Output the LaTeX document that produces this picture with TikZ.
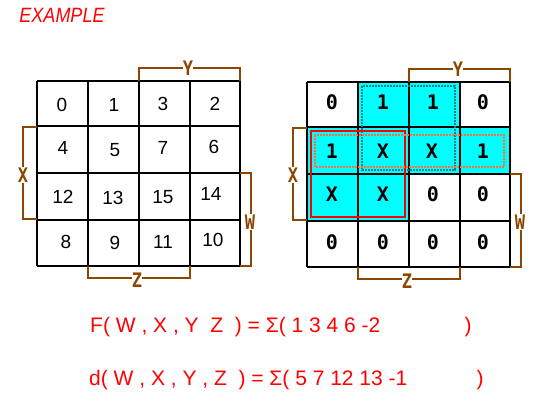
\documentclass[tikz,border=0pt]{standalone}
\usepackage{fontspec}
\setmainfont{Liberation Sans}
\newfontfamily\monob{DejaVu Sans Mono}
\definecolor{brn}{RGB}{140,70,0}
\definecolor{tealb}{RGB}{0,128,128}
\definecolor{orng}{RGB}{255,110,60}
\definecolor{cyanb}{RGB}{0,255,255}
\newcommand{\narrowl}[1]{\scalebox{0.85}[1]{#1}}
\begin{document}
\begin{tikzpicture}[x=1pt,y=-1pt,
  gridline/.style={line width=2pt,black},
  brk/.style={brn,line width=1.3pt},
  lbl/.style={text=brn,fill=white,inner sep=0.3pt,font=\monob\bfseries\fontsize{20}{20}\selectfont},
  num/.style={font=\fontsize{19}{19}\selectfont,inner sep=0pt},
  bit/.style={font=\monob\bfseries\fontsize{20}{20}\selectfont,inner sep=0pt},
  eqn/.style={text=red,font=\fontsize{21}{21}\selectfont,inner sep=0pt}]
\useasboundingbox (0,0) rectangle (549,410);
\fill[white] (0,0) rectangle (549,410);

% title
\node[text=red,font=\itshape\fontsize{18}{18}\selectfont,inner sep=0pt] (title) at (62,15) {\scalebox{1}[1.15]{EXAMPLE}};

% ---------- left map ----------
\foreach \x in {37,88,139,190,240} \draw[gridline] (\x,81) -- (\x,266);
\foreach \y in {81,126,173,220,266} \draw[gridline] (37,\y) -- (240,\y);

\node[num] (l0)  at (62,105) {0};
\node[num] (l1)  at (114,105) {1};
\node[num] (l3)  at (163,104) {3};
\node[num] (l2)  at (215,104) {2};
\node[num] (l4)  at (63,148) {4};
\node[num] (l5)  at (115,150) {5};
\node[num] (l7)  at (163,148) {7};
\node[num] (l6)  at (214,147) {6};
\node[num] (l12) at (63,197) {12};
\node[num] (l13) at (113,198) {13};
\node[num] (l15) at (163,197) {15};
\node[num] (l14) at (211,194) {14};
\node[num] (l8)  at (66,242) {8};
\node[num] (l9)  at (115,243) {9};
\node[num] (l11) at (163,242) {11};
\node[num] (l10) at (213,240) {10};

\draw[brk] (139,81) -- (139,68) -- (240,68) -- (240,81);
\node[lbl] (ly) at (188,68) {\narrowl{Y}};
\draw[brk] (37,127) -- (23,127) -- (23,219) -- (37,219);
\node[lbl] (lx) at (23,175) {\narrowl{X}};
\draw[brk] (240,173) -- (251,173) -- (251,266) -- (240,266);
\node[lbl] (lw) at (250,222) {\narrowl{W}};
\draw[brk] (88,266) -- (88,278) -- (190,278) -- (190,266);
\node[lbl] (lz) at (137,280) {\narrowl{Z}};

% ---------- right map ----------
\begin{scope}[shift={(270,1)}]
\fill[cyanb] (88,81) rectangle (190,126);
\fill[cyanb] (37,126) rectangle (240,173);
\fill[cyanb] (37,173) rectangle (139,220);
\foreach \x in {37,88,139,190,240} \draw[gridline] (\x,81) -- (\x,266);
\foreach \y in {81,126,173,220,266} \draw[gridline] (37,\y) -- (240,\y);

\draw[tealb,line width=2pt,dash pattern=on 2pt off 1pt] (92,85) rectangle (185,169);
\draw[red,line width=2pt] (41,130) rectangle (135,216);
\draw[orng,line width=2pt,dash pattern=on 2pt off 1pt] (45,134) rectangle (234,166);

\node[bit] (r00) at (62,101) {0};
\node[bit] (r01) at (113,101) {1};
\node[bit] (r02) at (163,101) {1};
\node[bit] (r03) at (213,101) {0};
\node[bit] (r10) at (62,150) {1};
\node[bit] (r11) at (113,150) {X};
\node[bit] (r12) at (162,150) {X};
\node[bit] (r13) at (213,150) {1};
\node[bit] (r20) at (62,193) {X};
\node[bit] (r21) at (113,193) {X};
\node[bit] (r22) at (163,193) {0};
\node[bit] (r23) at (213,193) {0};
\node[bit] (r30) at (62,241) {0};
\node[bit] (r31) at (113,241) {0};
\node[bit] (r32) at (163,241) {0};
\node[bit] (r33) at (213,241) {0};

\draw[brk] (139,81) -- (139,68) -- (240,68) -- (240,81);
\node[lbl] (ry) at (188,68) {\narrowl{Y}};
\draw[brk] (37,127) -- (23,127) -- (23,219) -- (37,219);
\node[lbl] (rx) at (23,174) {\narrowl{X}};
\draw[brk] (240,173) -- (251,173) -- (251,266) -- (240,266);
\node[lbl] (rw) at (250,221) {\narrowl{W}};
\draw[brk] (88,266) -- (88,278) -- (190,278) -- (190,266);
\node[lbl] (rz) at (137,280) {\narrowl{Z}};
\end{scope}

% ---------- equations ----------
\node[eqn,anchor=west] (eq1) at (90,327) {F(\ W\ ,\ X\ ,\ Y\ \ Z\ \ )\ =\ Σ(\ 1\ 3\ 4\ 6\ -2};
\node[eqn] (eq1c) at (468,327) {)};
\node[eqn,anchor=west] (eq2) at (89,380) {d(\ W\ ,\ X\ ,\ Y\ ,\ Z\ \ )\ =\ Σ(\ 5\ 7\ 12\ 13\ -1};
\node[eqn] (eq2c) at (480,380) {)};
\end{tikzpicture}
\end{document}
